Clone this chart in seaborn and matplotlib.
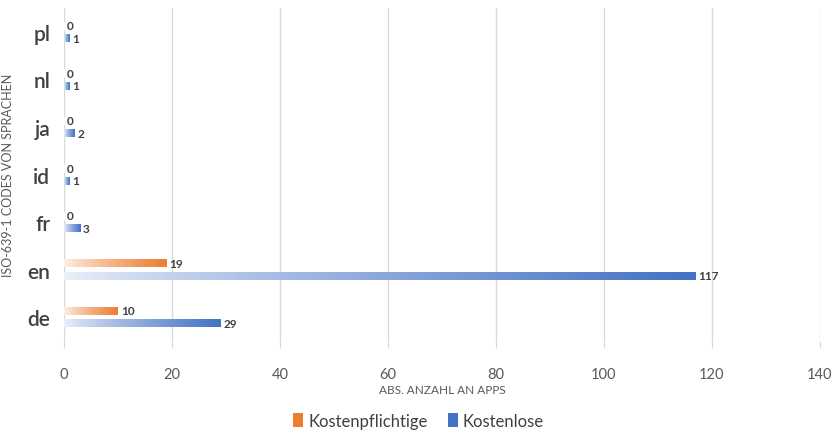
import numpy as np
import pandas as pd
import matplotlib.pyplot as plt
import seaborn as sns
from matplotlib.colors import LinearSegmentedColormap, to_rgb
from matplotlib.patches import Patch

# data
languages = ['pl', 'nl', 'ja', 'id', 'fr', 'en', 'de']
paid = [0, 0, 0, 0, 0, 19, 10]
free = [1, 1, 2, 1, 3, 117, 29]
series = ['Kostenpflichtige', 'Kostenlose']
colors = ['#ED7D31', '#4472C4']
x_ticks = [0, 20, 40, 60, 80, 100, 120, 140]

df = pd.DataFrame({
    'lang': languages * 2,
    'value': paid + free,
    'series': [series[0]] * len(languages) + [series[1]] * len(languages),
})

sns.set_style('white')
plt.rcParams['font.family'] = ['Lato', 'DejaVu Sans']

fig = plt.figure(figsize=(8.37, 4.35), dpi=100)
ax = fig.add_axes([0.0765, 0.214, 0.903, 0.765])

sns.barplot(data=df, y='lang', x='value', hue='series', order=languages,
            hue_order=series, palette=colors, orient='h', width=0.53,
            gap=0.36, ax=ax, legend=False)

ax.set_xlim(0, 140)
ax.set_ylim(6.5, -0.5)

# replace flat fill with a white -> colour gradient
for container, col in zip(ax.containers, colors):
    rgb = np.array(to_rgb(col))
    start = rgb + (1 - rgb) * 0.9
    cmap = LinearSegmentedColormap.from_list('g', [start, rgb])
    grad = np.linspace(0, 1, 256).reshape(1, -1) ** 0.8
    for p in container.patches:
        x0, y0 = p.get_x(), p.get_y()
        w, h = p.get_width(), p.get_height()
        if w <= 0:
            continue
        im = ax.imshow(grad, cmap=cmap, aspect='auto',
                       extent=[x0, x0 + w, y0 + h, y0], zorder=3)
        im.set_clip_path(p)
        p.set_facecolor('none')
        p.set_edgecolor('none')
    ax.bar_label(container, padding=2, fontsize=8.5, fontweight='bold',
                 color='#404040')

ax.set_xlim(0, 140)
ax.set_ylim(6.5, -0.5)

ax.set_xticks(x_ticks)
ax.grid(axis='x', color='#D9D9D9', linewidth=1)
ax.set_axisbelow(True)
for s in ax.spines.values():
    s.set_visible(False)
ax.tick_params(axis='x', colors='#595959', labelsize=10.5, length=5,
               color='#D9D9D9', pad=14, bottom=True)
ax.tick_params(axis='y', colors='#404040', labelsize=15, length=0, pad=10)
for t in ax.get_yticklabels():
    t.set_fontweight('semibold')

ax.set_xlabel('ABS. ANZAHL AN APPS', fontsize=8.5, color='#595959', labelpad=2)
ax.set_ylabel('ISO-639-1 CODES VON SPRACHEN', fontsize=9, color='#595959')
ax.yaxis.set_label_coords(-0.066, 0.5)

handles = [Patch(facecolor=c, edgecolor='none') for c in colors]
fig.legend(handles, series, loc='center', bbox_to_anchor=(0.5, 0.03), ncol=2,
           frameon=False, fontsize=12, handlelength=0.6, handleheight=0.9,
           handletextpad=0.3, columnspacing=1.2, labelcolor='#404040')

fig.savefig('out.png', dpi=100)
